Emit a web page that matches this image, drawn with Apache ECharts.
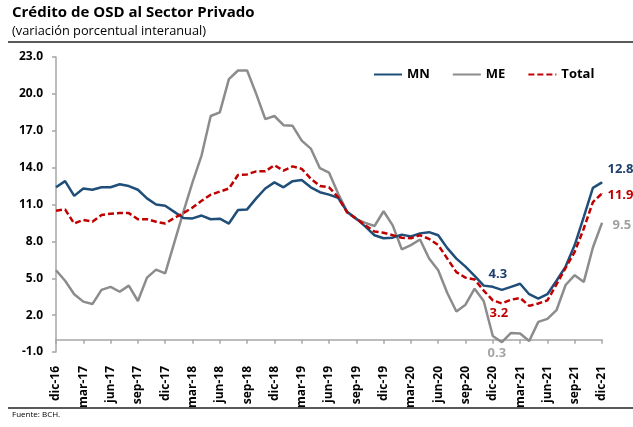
<!DOCTYPE html>
<html>
<head>
<meta charset="utf-8">
<script src="https://cdn.jsdelivr.net/npm/echarts@6/dist/echarts.min.js"></script>
<style>
html, body { margin: 0; padding: 0; background: #fff; }
#chart { width: 633px; height: 427px; }
</style>
</head>
<body>
<div id="chart"></div>
<script>
//Crédito de OSD al Sector Privado, variación interanual

var meses = ['ene', 'feb', 'mar', 'abr', 'may', 'jun', 'jul', 'ago', 'sep', 'oct', 'nov', 'dic'];
var categorias = ['dic-16'];
for (var a = 17; a <= 21; a++) {
    for (var m = 0; m < 12; m++) {
        categorias.push(meses[m] + '-' + a);
    }
}

var mn = [12.4, 12.9, 11.7, 12.3, 12.2, 12.4, 12.4, 12.65, 12.5, 12.2, 11.5, 11.0, 10.9,
    10.4, 9.9, 9.87, 10.1, 9.8, 9.85, 9.45, 10.55, 10.6, 11.5, 12.3, 12.8,
    12.4, 12.9, 13.0, 12.4, 12.0, 11.8, 11.55, 10.4, 9.85, 9.2, 8.5, 8.25,
    8.3, 8.55, 8.4, 8.65, 8.75, 8.5, 7.45, 6.6, 5.95, 5.2, 4.4, 4.3,
    4.05, 4.3, 4.55, 3.7, 3.35, 3.7, 4.8, 5.95, 7.7, 10.0, 12.35, 12.8];

var me = [5.65, 4.8, 3.7, 3.1, 2.9, 4.05, 4.3, 3.9, 4.4, 3.15, 5.05, 5.7, 5.4,
    7.9, 10.4, 12.8, 15.0, 18.2, 18.5, 21.2, 21.9, 21.9, 20.0, 17.95, 18.2,
    17.45, 17.4, 16.2, 15.55, 13.95, 13.6, 11.9, 10.4, 9.8, 9.5, 9.25, 10.45,
    9.3, 7.35, 7.7, 8.15, 6.6, 5.65, 3.8, 2.3, 2.85, 4.15, 3.15, 0.3,
    -0.2, 0.55, 0.5, -0.1, 1.45, 1.7, 2.4, 4.45, 5.25, 4.7, 7.5, 9.5];

var total = [10.5, 10.6, 9.45, 9.75, 9.6, 10.15, 10.25, 10.3, 10.3, 9.8, 9.8, 9.6, 9.45,
    9.9, 10.3, 10.75, 11.3, 11.8, 12.05, 12.3, 13.4, 13.45, 13.7, 13.7, 14.2,
    13.75, 14.1, 13.9, 13.1, 12.5, 12.4, 11.6, 10.35, 9.85, 9.3, 8.8, 8.7,
    8.5, 8.3, 8.25, 8.5, 8.2, 7.7, 6.6, 5.5, 5.05, 4.9, 4.0, 3.2,
    2.95, 3.25, 3.4, 2.75, 2.95, 3.2, 4.5, 5.85, 7.15, 9.05, 11.2, 11.9];

var yTicks = [-1, 2, 5, 8, 11, 14, 17, 20, 23];

var fuente = 'Open Sans';

//etiquetas solo en dic-20 y dic-21
function conEtiquetas(valores, etiquetas) {
    return valores.map(function (v, i) {
        if (etiquetas[i]) {
            return { value: v, symbol: 'circle', symbolSize: 1, label: etiquetas[i] };
        }
        return v;
    });
}

function etiqueta(color, pos, offset, dist) {
    return {
        show: true,
        position: pos,
        offset: offset,
        distance: dist,
        color: color,
        fontFamily: fuente,
        fontWeight: 'bold',
        fontSize: 13,
        formatter: function (p) { return p.value.toFixed(1); }
    };
}

var chart = echarts.init(document.getElementById('chart'), null, { renderer: 'canvas' });

var option = {
    animation: false,
    backgroundColor: '#fff',
    graphic: [
        {
            type: 'text', left: 12, top: 5,
            style: { text: 'Crédito de OSD al Sector Privado', font: 'bold 15px ' + fuente, fill: '#000' }
        },
        {
            type: 'text', left: 12, top: 25,
            style: { text: '(variación porcentual interanual)', font: '12.8px ' + fuente, fill: '#000' }
        },
        {
            type: 'line', shape: { x1: 8, y1: 42, x2: 633, y2: 42 },
            style: { stroke: '#222', lineWidth: 1.5 }
        },
        {
            type: 'line', shape: { x1: 8, y1: 408, x2: 633, y2: 408 },
            style: { stroke: '#222', lineWidth: 1.5 }
        },
        {
            type: 'text', left: 12, top: 411,
            style: { text: 'Fuente: BCH.', font: '8px ' + fuente, fill: '#000' }
        }
    ],
    legend: {
        data: ['MN', 'ME', 'Total'],
        left: 368,
        top: 63,
        itemWidth: 28,
        itemHeight: 14,
        itemGap: 22,
        itemStyle: { opacity: 0 },
        textStyle: { color: '#000', fontFamily: fuente, fontWeight: 'bold', fontSize: 13 }
    },
    grid: {
        left: 56,
        right: 31,
        top: 57,
        bottom: 75
    },
    xAxis: {
        type: 'category',
        boundaryGap: false,
        data: categorias,
        axisLine: { onZero: true, lineStyle: { color: '#A6A6A6', width: 1.5 } },
        axisTick: { interval: 2, length: 4, lineStyle: { color: '#A6A6A6', width: 1.5 } },
        axisLabel: {
            interval: 2,
            rotate: 90,
            margin: 14,
            color: '#000',
            fontFamily: fuente,
            fontWeight: 'bold',
            fontSize: 12
        }
    },
    yAxis: {
        type: 'value',
        min: -1,
        max: 23,
        splitLine: { show: false },
        axisLine: { show: true, lineStyle: { color: '#A6A6A6', width: 1.5 } },
        axisTick: { show: true, length: 4, customValues: yTicks, lineStyle: { color: '#A6A6A6', width: 1.5 } },
        axisLabel: {
            customValues: yTicks,
            margin: 13,
            color: '#000',
            fontFamily: fuente,
            fontWeight: 'bold',
            fontSize: 12,
            formatter: function (v) { return v.toFixed(1); }
        }
    },
    series: [
        {
            name: 'MN',
            type: 'line',
            symbol: 'none',
            z: 3,
            color: '#1F4E79',
            lineStyle: { color: '#1F4E79', width: 2.5 },
            data: conEtiquetas(mn, {
                48: etiqueta('#1F3F6E', 'top', [5, 0], 6),
                60: etiqueta('#1F3F6E', 'right', [0, -13], 5)
            })
        },
        {
            name: 'ME',
            type: 'line',
            symbol: 'none',
            z: 2,
            color: '#8C8C8C',
            lineStyle: { color: '#8C8C8C', width: 2.5 },
            data: conEtiquetas(me, {
                48: etiqueta('#A6A6A6', 'bottom', [4, 0], 10),
                60: etiqueta('#A0A0A0', 'right', [0, 2], 10)
            })
        },
        {
            name: 'Total',
            type: 'line',
            symbol: 'none',
            z: 4,
            color: '#C00000',
            lineStyle: { color: '#C00000', width: 2.5, type: [6, 3] },
            data: conEtiquetas(total, {
                48: etiqueta('#C00000', 'bottom', [6, 0], 6),
                60: etiqueta('#C00000', 'right', [0, 2], 5)
            })
        }
    ]
};

chart.setOption(option);
</script>
</body>
</html>
